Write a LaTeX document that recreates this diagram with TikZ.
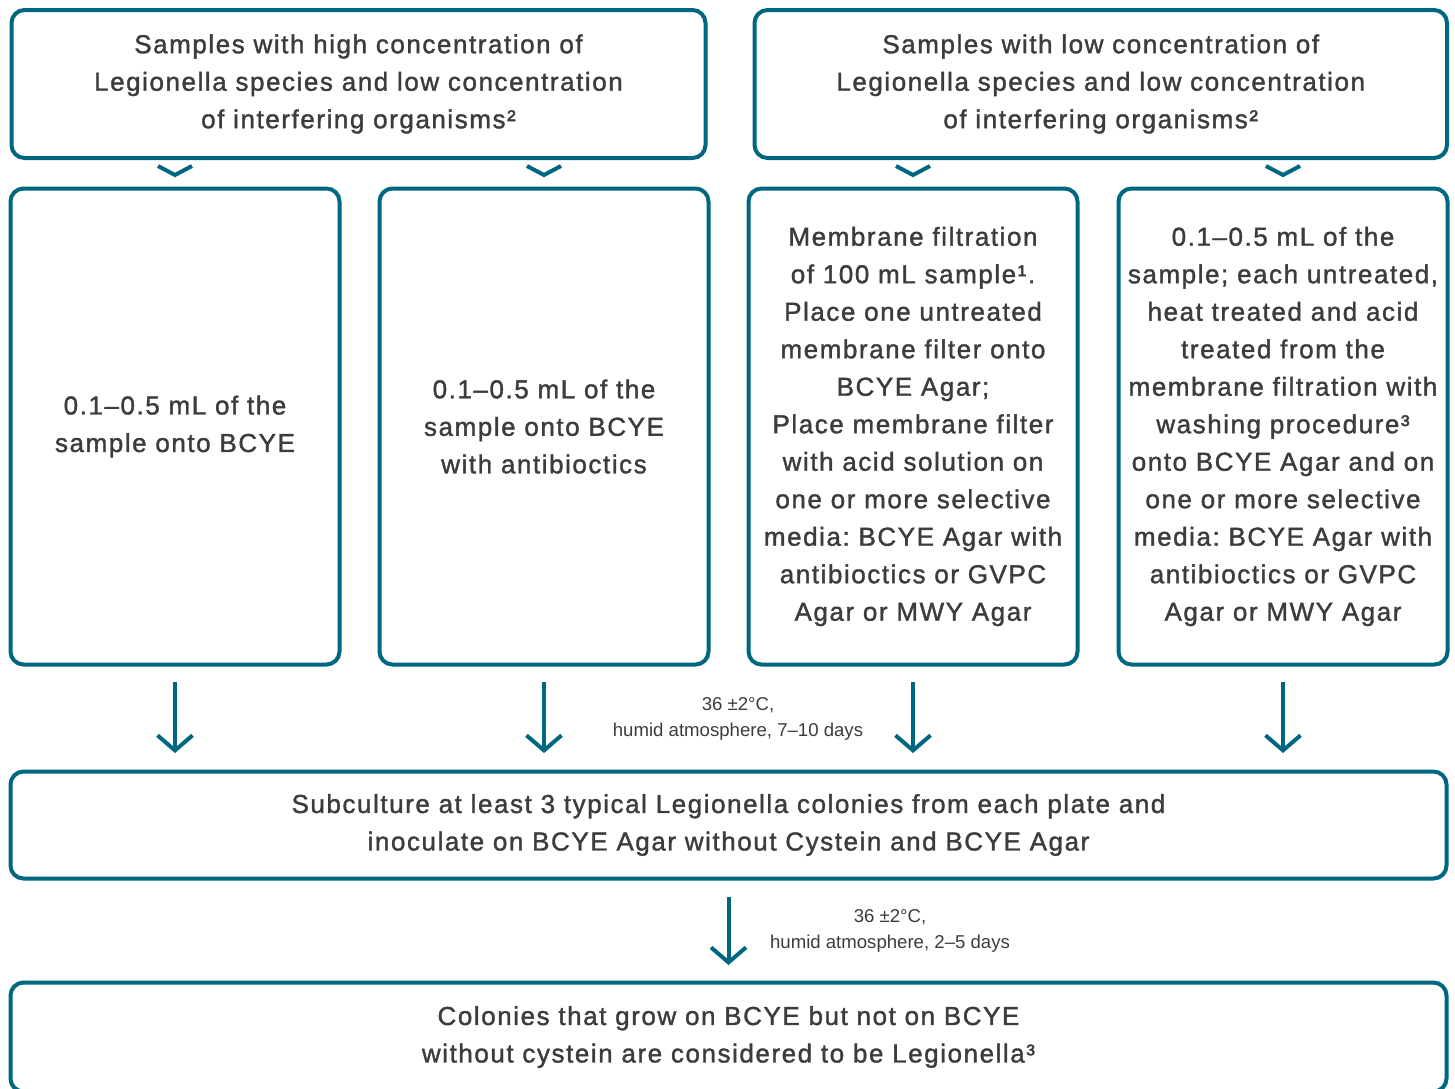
\documentclass[tikz,border=0pt]{standalone}
\usepackage{fontspec}
\usepackage{tikz}
\usetikzlibrary{arrows.meta}
\newfontfamily\boxfont[LetterSpace=6,FakeBold=1.4]{Liberation Sans}
\newfontfamily\notefont{Liberation Sans}

\begin{document}
\begin{tikzpicture}[x=1pt,y=-1pt,
  box/.style={draw=tealLine,line width=4pt,rounded corners=13pt,outer sep=0pt,inner sep=0pt,
    align=center,text=textGray,font=\boxfont\fontsize{26}{37.5}\selectfont\frenchspacing},
  note/.style={align=center,text=textGray,font=\notefont\fontsize{18.6}{26}\selectfont},
  flow/.style={draw=tealLine,line width=4pt,-{Straight Barb[length=15pt,width=35pt]}},
  chev/.style={draw=tealLine,line width=4pt}]
\definecolor{tealLine}{RGB}{0,103,128}
\definecolor{textGray}{RGB}{60,60,60}
\path[use as bounding box,clip] (0,0) rectangle (1455,1088);
% sample groups
\node[box,minimum width=694pt,minimum height=148pt] (high) at (358.5,84)
  {Samples with high concentration of\\Legionella species and low concentration\\of interfering organisms²};
\node[box,minimum width=692.5pt,minimum height=148pt] (low) at (1100.75,84)
  {Samples with low concentration of\\Legionella species and low concentration\\of interfering organisms²};
% plating
\node[box,minimum width=329pt,minimum height=476pt] (m1) at (175,426.5)
  {0.1–0.5 mL of the\\sample onto BCYE};
\node[box,minimum width=329pt,minimum height=476pt] (m2) at (544,426.5)
  {0.1–0.5 mL of the\\sample onto BCYE\\with antibioctics};
\node[box,minimum width=329pt,minimum height=476pt] (m3) at (913,426.5)
  {Membrane filtration\\of 100 mL sample¹.\\Place one untreated\\membrane filter onto\\BCYE Agar;\\Place membrane filter\\with acid solution on\\one or more selective\\media: BCYE Agar with\\antibioctics or GVPC\\Agar or MWY Agar};
\node[box,minimum width=329pt,minimum height=476pt] (m4) at (1283,426.5)
  {0.1–0.5 mL of the\\sample; each untreated,\\heat treated and acid\\treated from the\\membrane filtration with\\washing procedure³\\onto BCYE Agar and on\\one or more selective\\media: BCYE Agar with\\antibioctics or GVPC\\Agar or MWY Agar};
% subculture and result
\node[box,minimum width=1436pt,minimum height=107pt] (sub) at (728.5,825)
  {Subculture at least 3 typical Legionella colonies from each plate and\\inoculate on BCYE Agar without Cystein and BCYE Agar};
\node[box,minimum width=1436pt,minimum height=109pt] (res) at (728.5,1037)
  {Colonies that grow on BCYE but not on BCYE\\without cystein are considered to be Legionella³};
\node[note] (inc1) at (738,719) {36 ±2°C,\\humid atmosphere, 7–10 days};
\node[note] (inc2) at (890,931) {36 ±2°C,\\humid atmosphere, 2–5 days};
\foreach \b in {m1,m2,m3,m4}
  \draw[chev] ([shift={(-17,-22.5)}]\b.north) -- ++(17,9) -- ++(17,-9);
\foreach \b in {m1,m2,m3,m4}
  \draw[flow,shorten <=17.5pt,shorten >=18.5pt] (\b.south) -- (\b.south |- sub.north);
\draw[flow,shorten <=18.5pt,shorten >=17.5pt] (sub.south) -- (res.north);
\end{tikzpicture}
\end{document}
